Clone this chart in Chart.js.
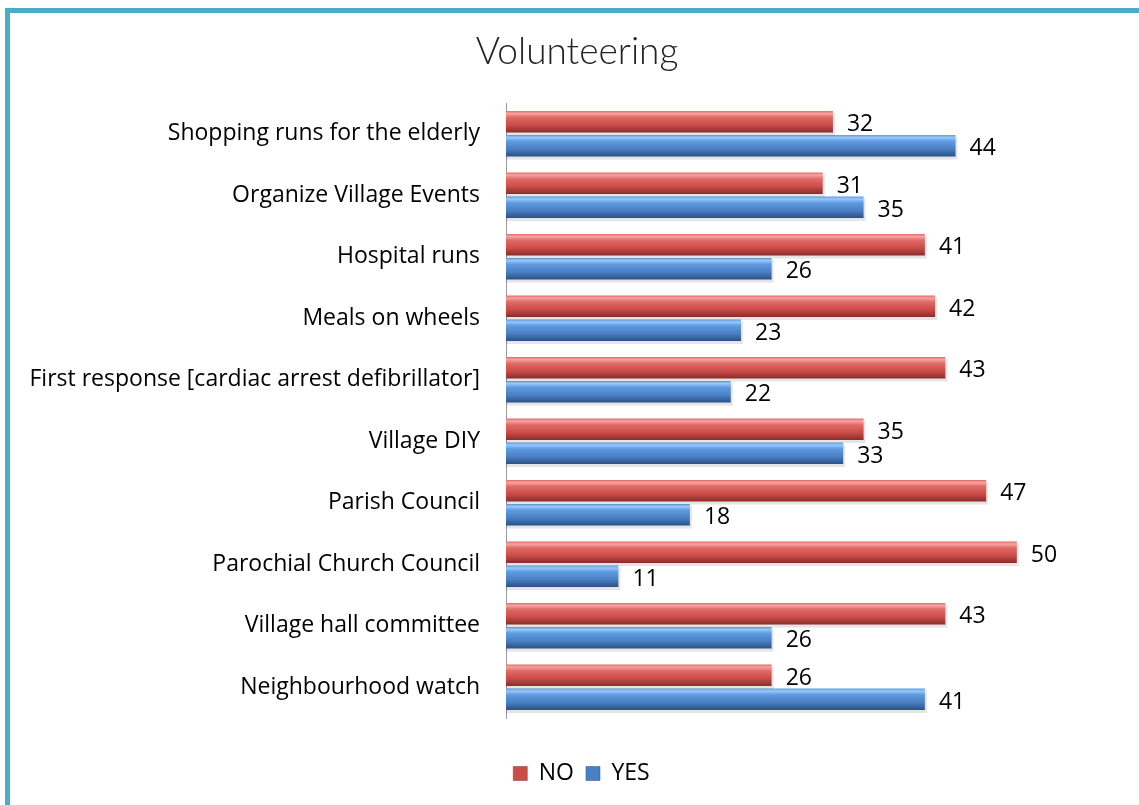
<!DOCTYPE html>
<html><head><meta charset="utf-8">
<script src="https://cdn.jsdelivr.net/npm/chart.js@4/dist/chart.umd.min.js"></script>
<style>html,body{margin:0;padding:0;background:#fff;}#wrap{width:1139px;height:805px;position:relative;}</style>
</head><body><div id="wrap"><canvas id="c" width="1139" height="805"></canvas></div>
<script>
const categories = ["Shopping runs for the elderly","Organize Village Events","Hospital runs","Meals on wheels","First response [cardiac arrest defibrillator]","Village DIY","Parish Council","Parochial Church Council","Village hall committee","Neighbourhood watch"];
const noValues = [32,31,41,42,43,35,47,50,43,26];
const yesValues = [44,35,26,23,22,33,18,11,26,41];
const seriesNames = ["NO","YES"];
const chartTitle = "Volunteering";

const FONT = "'Open Sans', 'Liberation Sans', sans-serif";
const palettes = {
  NO: ["#f7a3a0","#e06a66","#cc4c48","#8a2c2a"],
  YES: ["#96c9fa","#5f9ae0","#4a80c4","#2a5087"]
};

function makeGrad(ctx, top, h, pal) {
  const g = ctx.createLinearGradient(0, top, 0, top + h);
  g.addColorStop(0, pal[1]);
  g.addColorStop(0.12, pal[0]);
  g.addColorStop(0.3, pal[1]);
  g.addColorStop(0.65, pal[2]);
  g.addColorStop(1, pal[3]);
  return g;
}

const gradientPlugin = {
  id: 'grad',
  beforeDatasetDraw(chart, args) {
    const ctx = chart.ctx;
    const meta = chart.getDatasetMeta(args.index);
    const pal = palettes[chart.data.datasets[args.index].label];
    ctx.save();
    meta.data.forEach(bar => {
      const h = bar.height;
      const top = bar.y - h/2;
      ctx.fillStyle = "rgba(0,0,0,0.10)";
      ctx.fillRect(bar.base, top + 2, bar.x - bar.base + 2, h + 1);
      bar.options.backgroundColor = makeGrad(ctx, top, h, pal);
      bar.draw(ctx, chart.chartArea);
    });
    ctx.restore();
    return false;
  }
};

const labelPlugin = {
  id: 'vlabels',
  afterDatasetsDraw(chart) {
    const ctx = chart.ctx;
    ctx.save();
    ctx.font = "23px " + FONT;
    ctx.fillStyle = "#000";
    ctx.textBaseline = "middle";
    ctx.textAlign = "left";
    chart.data.datasets.forEach((ds, i) => {
      chart.getDatasetMeta(i).data.forEach((bar, j) => {
        ctx.fillText(String(ds.data[j]), bar.x + 14, bar.y + 3);
      });
    });
    ctx.restore();
  }
};

const frameAndTitlePlugin = {
  id: 'frame',
  afterLayout(chart) {
    if (chart.legend) { chart.legend.left += 17; chart.legend.right += 17; }
  },
  beforeDraw(chart) {
    const ctx = chart.ctx;
    ctx.save();
    ctx.fillStyle = "#fff";
    ctx.fillRect(0,0,chart.width,chart.height);
    ctx.strokeStyle = "#4bacc6";
    ctx.lineWidth = 5;
    ctx.beginPath();
    ctx.moveTo(7.5, chart.height + 10);
    ctx.lineTo(7.5, 10.5);
    ctx.lineTo(chart.width + 10, 10.5);
    ctx.stroke();
    ctx.fillStyle = "#222";
    ctx.font = "300 37px 'Lato', 'DejaVu Sans', sans-serif";
    ctx.textAlign = "center";
    ctx.textBaseline = "middle";
    ctx.fillText(chartTitle, 577, 52);
    ctx.restore();
  }
};

new Chart(document.getElementById('c'), {
  type: 'bar',
  data: {
    labels: categories,
    datasets: [
      { label: seriesNames[0], data: noValues, backgroundColor: "#c0504d", borderWidth: 0 },
      { label: seriesNames[1], data: yesValues, backgroundColor: "#4f81bd", borderWidth: 0 }
    ]
  },
  options: {
    indexAxis: 'y',
    responsive: false,
    animation: false,
    layout: { padding: { left: 10, right: 20, top: 103, bottom: 10 } },
    datasets: { bar: { categoryPercentage: 0.78, barPercentage: 0.9 } },
    scales: {
      x: { display: true, min: 0, max: 60,
        ticks: { display: false }, grid: { display: false }, border: { display: false },
        afterFit(s) { s.height = 32; } },
      y: {
        grid: { display: false, drawTicks: false },
        border: { display: true, color: "#9a9a9a", width: 1 },
        ticks: { color: "#000", font: { size: 23, family: FONT }, padding: 26 },
        afterFit(s) { s.width = 496; }
      }
    },
    plugins: {
      title: { display: false },
      legend: { position: 'bottom',
        labels: { color: "#000", font: { size: 23, family: FONT }, boxWidth: 14, boxHeight: 14, padding: 12,
          generateLabels(chart) {
            return chart.data.datasets.map((ds, i) => ({
              text: ds.label, fillStyle: palettes[ds.label][2], strokeStyle: palettes[ds.label][3], lineWidth: 0.5, datasetIndex: i, fontColor: "#000"
            }));
          } } },
      tooltip: { enabled: false }
    }
  },
  plugins: [frameAndTitlePlugin, gradientPlugin, labelPlugin]
});
</script></body></html>
